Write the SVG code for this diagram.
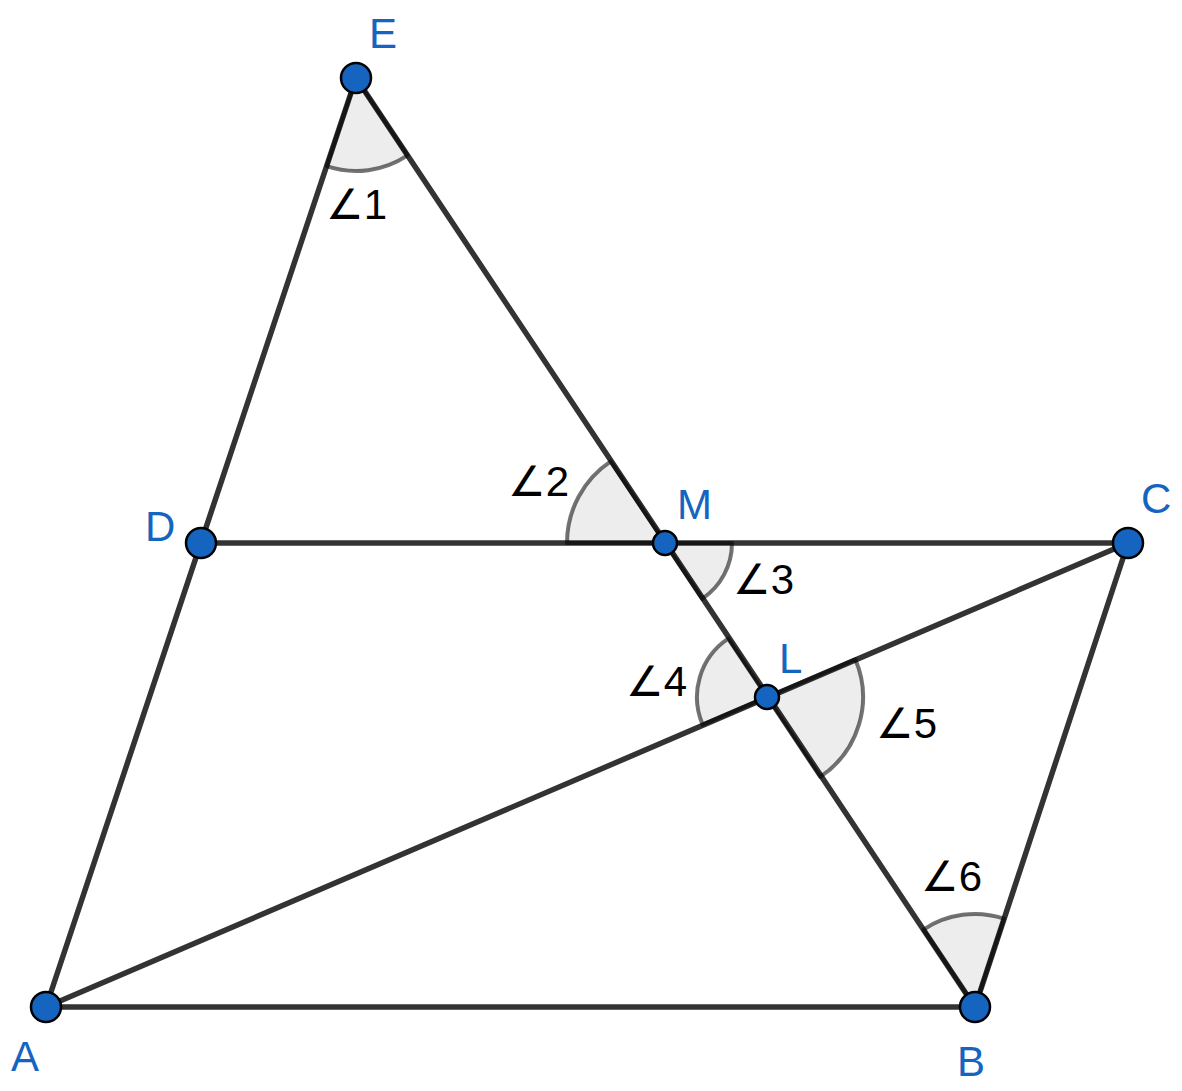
<svg xmlns="http://www.w3.org/2000/svg" width="1182" height="1091" viewBox="0 0 1182 1091">
<style>
.ln{stroke:#333;stroke-width:5.5;stroke-linecap:round;fill:none}
.ang{fill:#000;fill-opacity:0.07;stroke:#000;stroke-opacity:0.55;stroke-width:4;stroke-linejoin:round}
.pt{fill:#1565c0;stroke:#000;stroke-width:2.5}
.lbl{font-family:"Liberation Sans",Arial,sans-serif;font-size:42px;fill:#1565c0}
.al{font-family:"Liberation Sans","DejaVu Sans",sans-serif;font-size:42px;fill:#000}
</style>
<rect width="1182" height="1091" fill="#fff"/>
<g id="connectors">
<line class="ln" x1="46" y1="1007" x2="975" y2="1007"/>
<line class="ln" x1="46" y1="1007" x2="356" y2="78"/>
<line class="ln" x1="356" y1="78" x2="975" y2="1007"/>
<line class="ln" x1="201" y1="543" x2="1128" y2="543"/>
<line class="ln" x1="46" y1="1007" x2="1128" y2="543"/>
<line class="ln" x1="1128" y1="543" x2="975" y2="1007"/>
</g>
<g id="angles">
<path id="angle1" class="ang" d="M356,78 L326.6,166.2 A93,93 0 0 0 407.6,155.4 Z"/>
<path id="angle2" class="ang" d="M665,543 L567,543 A98,98 0 0 1 610.7,461.4 Z"/>
<path id="angle3" class="ang" d="M665,543 L732,543 A67,67 0 0 1 702.2,598.8 Z"/>
<path id="angle4" class="ang" d="M767,697 L728.2,638.7 A70,70 0 0 0 702.7,724.7 Z"/>
<path id="angle5" class="ang" d="M767,697 L855.3,659.3 A96,96 0 0 1 820.2,776.9 Z"/>
<path id="angle6" class="ang" d="M975,1007 L923.4,929.6 A93,93 0 0 1 1004.1,918.7 Z"/>
</g>
<g id="angle-labels">
<text class="al" x="326" y="219">∠1</text>
<text class="al" x="508" y="496">∠2</text>
<text class="al" x="733" y="594">∠3</text>
<text class="al" x="626" y="696">∠4</text>
<text class="al" x="876" y="738">∠5</text>
<text class="al" x="921" y="891">∠6</text>
</g>
<g id="node-E"><circle class="pt" cx="356" cy="78" r="15"/><text class="lbl" x="369" y="48">E</text></g>
<g id="node-D"><circle class="pt" cx="201" cy="543" r="15"/><text class="lbl" x="145" y="541">D</text></g>
<g id="node-M"><circle class="pt" cx="665" cy="543" r="12"/><text class="lbl" x="677" y="519">M</text></g>
<g id="node-C"><circle class="pt" cx="1128" cy="543" r="15"/><text class="lbl" x="1141" y="513">C</text></g>
<g id="node-L"><circle class="pt" cx="767" cy="697" r="12"/><text class="lbl" x="779" y="673">L</text></g>
<g id="node-A"><circle class="pt" cx="46" cy="1007" r="15"/><text class="lbl" x="11" y="1071">A</text></g>
<g id="node-B"><circle class="pt" cx="975" cy="1007" r="15"/><text class="lbl" x="957" y="1076">B</text></g>
</svg>
